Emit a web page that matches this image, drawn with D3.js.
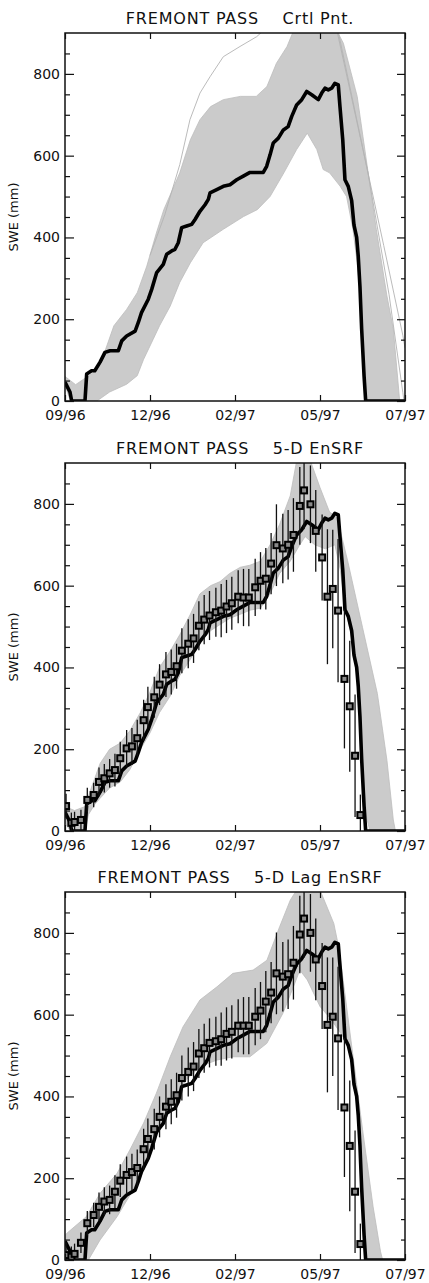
<!DOCTYPE html>
<html>
<head>
<meta charset="utf-8">
<script src="https://cdn.jsdelivr.net/npm/d3@7"></script>
<style>
  body { margin: 0; background: #fff; }
  text { font-family: "DejaVu Sans", sans-serif; fill: #111; }
</style>
</head>
<body>
<div id="chart"></div>
<script>
// x = days since start of record, y = SWE (mm)
const tickDays = [0, 80, 160, 240, 320];
const tickLabels = ["09/96", "12/96", "02/97", "05/97", "07/97"];
const titles = ["FREMONT PASS    Crtl Pnt.", "FREMONT PASS    5-D EnSRF", "FREMONT PASS    5-D Lag EnSRF"];

// "true" SWE (thick black line), same in each panel
const truth = [[0,46],[4.7,22],[6.3,0],[18.8,0],[20.4,66],[25,74],[28,74],[33,95],[37.6,119],[42.4,123],
  [50.2,123],[53.4,147],[58,159],[66,171],[69,192],[72,216],[78.4,249],[81.6,273],[86.3,314],[92.5,334],
  [95.7,359],[100.4,367],[103.5,371],[106.6,387],[109.8,424],[114.5,428],[119.3,432],[122.4,444],[127,464],
  [131.8,480],[134.9,493],[136.5,509],[142.8,517],[149,525],[155.3,529],[161.6,541],[167.8,550],[174.1,559],
  [186.6,559],[189.8,574],[193,602],[196,631],[200.8,643],[205.5,663],[210,671],[213.4,696],[218,724],
  [222.8,737],[227.5,757],[232.2,749],[238.4,737],[241.6,753],[244.7,765],[247.8,761],[251,765],[254,777],
  [257.2,773],[258.8,720],[261.4,639],[263.5,541],[266.6,525],[269.8,490],[272,430],[274.5,400],[276,354],
  [277.6,280],[279.2,176],[281.5,60],[283,0],[320,0]];

// outline of the grey ensemble traces, per panel
const crtlUpper = [[0,60],[10,40],[27,70],[36,110],[46,184],[58,224],[68,265],[77,330],[86,411],[93,468],
  [108,558],[118,639],[127,688],[137,720],[149,737],[165,745],[180,745],[190,769],[199,826],[209,867],
  [215,905],[256,905],[262,875],[275,745],[284,582],[293,420],[303,257],[309,176],[315,0]];
const crtlLower = [[0,40],[5,0],[30,0],[42,22],[58,41],[68,62],[74,102],[83,151],[89,184],[99,232],
  [108,290],[118,338],[130,387],[149,420],[168,451],[181,468],[193,500],[206,558],[218,615],[228,655],
  [237,615],[243,566],[249,558],[259,525],[265,500],[271,420],[275,338],[278,257],[279,176],[284,0]];
const enUpper = [[0,60],[9,50],[19,60],[24,100],[33,165],[42,200],[52,215],[61,245],[71,290],[80,340],
  [89,400],[99,440],[108,480],[118,530],[127,580],[137,600],[146,610],[155,630],[165,645],[174,650],
  [184,660],[193,700],[202,750],[212,820],[218,905],[231,905],[240,840],[249,780],[256,767],[266,661],
  [280,498],[294,336],[303,173],[309,27],[311,0]];
const enLower = [[0,20],[5,0],[19,0],[22,40],[28,65],[33,80],[42,105],[52,120],[61,150],[71,200],[80,240],
  [89,290],[99,330],[108,380],[118,420],[127,460],[137,490],[146,505],[155,520],[165,530],[174,540],
  [184,545],[193,580],[202,630],[212,660],[221,700],[226,720],[235,700],[245,690],[254,700],[259,640],
  [263,560],[266,520],[270,470],[275,380],[278,250],[280,150],[284,30],[287,0]];
const lagUpper = [[0,60],[2,66],[20,106],[33,163],[49,212],[61,269],[74,335],[86,408],[99,497],[111,570],
  [127,636],[143,668],[158,701],[177,709],[190,733],[202,815],[212,880],[218,905],[240,905],[253,823],
  [258,760],[268,560],[280,320],[290,130],[297,20],[299,0]];
const lagLower = [[0,30],[5,0],[22,0],[33,49],[49,106],[64,171],[77,253],[89,326],[102,391],[114,440],
  [127,473],[143,489],[158,497],[174,497],[190,530],[205,603],[215,668],[221,709],[228,685],[240,620],
  [250,590],[258,560],[263,541],[267,525],[270,485],[271,428],[275,403],[276,354],[278,257],[279,176],[282,0]];

// single grey members standing out of the spread (control run)
const crtlMemberHigh = [[80,356],[94,456],[108,578],[117.6,688],[127,753],[136.5,793],[149,842],
  [164.7,867],[180.4,891],[186.4,905]];
const crtlMemberLate1 = [[256,905],[280,620],[300,380],[318,160],[320,130]];
const crtlMemberLate2 = [[257,905],[285,560],[305,260],[318,20],[319,0]];

// observations (squares) with error bar half-widths
const obsDay = [1,6,9,15,21,27,32,37,42,47,52,58,63,68,74,78,84,89,95,100,105,110,116,121,126,131,136,
  142,147,152,157,163,168,173,179,184,189,194,199,205,210,215,221,225,231,236,242,247,252,257,263,268,273,278];
const obsEnSRF = [61,20,22,27,76,88,120,129,141,149,178,202,207,227,271,303,327,358,383,389,403,441,458,471,
  502,517,527,535,539,549,557,573,571,571,596,612,617,654,699,691,700,724,795,833,799,734,669,573,592,539,
  372,305,184,39];
const obsLag = [12,8,15,42,90,110,130,143,147,167,194,208,215,225,271,296,320,350,375,387,403,445,460,473,
  505,518,531,535,540,553,558,573,573,573,595,610,632,654,701,693,699,727,796,835,800,735,670,575,595,542,
  373,279,167,39];
const obsErr = [30,25,25,25,30,30,35,35,35,40,40,45,45,45,50,50,50,50,55,55,55,55,60,60,60,60,60,60,65,65,
  65,65,70,70,70,70,75,75,100,85,85,90,95,95,95,100,105,165,145,175,170,160,150,50];

const panels = [
  {title: titles[0], upper: crtlUpper, lower: crtlLower, members: [crtlMemberHigh, crtlMemberLate1, crtlMemberLate2], obs: null},
  {title: titles[1], upper: enUpper, lower: enLower, members: [], obs: obsEnSRF},
  {title: titles[2], upper: lagUpper, lower: lagLower, members: [], obs: obsLag}
];

const W = 429, H = 1283;
const left = 65, plotW = 340, plotH = 368;
const tops = [33, 463, 892];

const svg = d3.select("#chart").append("svg")
  .attr("width", W).attr("height", H);

svg.append("defs").append("clipPath").attr("id", "plotclip")
  .append("rect").attr("width", plotW).attr("height", plotH);

const x = d3.scaleLinear().domain([0, 320]).range([0, plotW]);
const y = d3.scaleLinear().domain([0, 900]).range([plotH, 0]);
const line = d3.line().x(d => x(d[0])).y(d => y(d[1]));

panels.forEach((p, i) => {
  const g = svg.append("g").attr("transform", `translate(${left},${tops[i]})`);
  const plot = g.append("g").attr("clip-path", "url(#plotclip)");

  // grey ensemble spread
  const poly = p.upper.concat(p.lower.slice().reverse());
  plot.append("path")
    .attr("d", line(poly) + "Z")
    .attr("fill", "#cbcbcb")
    .attr("stroke", "#bcbcbc")
    .attr("stroke-width", 0.8);

  p.members.forEach(m => {
    plot.append("path")
      .attr("d", line(m))
      .attr("fill", "none")
      .attr("stroke", "#b3b3b3")
      .attr("stroke-width", 0.9);
  });

  // truth
  plot.append("path")
    .attr("d", line(truth))
    .attr("fill", "none")
    .attr("stroke", "#000")
    .attr("stroke-width", 3.6)
    .attr("stroke-linejoin", "round");

  if (p.obs) {
    const obs = obsDay.map((d, k) => ({day: d, v: p.obs[k], e: obsErr[k]}));
    plot.selectAll(".err").data(obs).enter().append("line")
      .attr("x1", d => x(d.day)).attr("x2", d => x(d.day))
      .attr("y1", d => y(d.v + d.e)).attr("y2", d => y(Math.max(0, d.v - d.e)))
      .attr("stroke", "#111").attr("stroke-width", 1.3);
    plot.selectAll(".obs").data(obs).enter().append("rect")
      .attr("x", d => x(d.day) - 3).attr("y", d => y(d.v) - 3)
      .attr("width", 6).attr("height", 6)
      .attr("fill", "#8a8a8a").attr("stroke", "#000").attr("stroke-width", 2);
  }

  // axes, ticks pointing inward
  const major = [0, 200, 400, 600, 800];
  const minor = d3.range(50, 900, 50).filter(v => v % 200 !== 0);

  g.append("g").call(d3.axisLeft(y).tickValues(major).tickSize(-9).tickPadding(5));
  g.append("g").call(d3.axisLeft(y).tickValues(minor).tickSize(-5).tickFormat(""));
  g.append("g").attr("transform", `translate(${plotW},0)`)
    .call(d3.axisRight(y).tickValues(major).tickSize(-8).tickFormat(""));
  g.append("g").attr("transform", `translate(${plotW},0)`)
    .call(d3.axisRight(y).tickValues(minor).tickSize(-4).tickFormat(""));
  g.append("g").attr("transform", `translate(0,${plotH})`)
    .call(d3.axisBottom(x).tickValues(tickDays).tickSize(-6).tickPadding(9)
      .tickFormat((d, k) => tickLabels[k]));
  g.append("g")
    .call(d3.axisTop(x).tickValues(tickDays).tickSize(-6).tickFormat(""));

  g.selectAll(".domain").remove();
  g.selectAll(".tick line").attr("stroke", "#111").attr("stroke-width", 1.2);
  g.selectAll(".tick text").attr("font-size", 14).attr("fill", "#111")
    .attr("font-family", "DejaVu Sans, sans-serif");

  g.append("rect")
    .attr("width", plotW).attr("height", plotH)
    .attr("fill", "none").attr("stroke", "#111").attr("stroke-width", 1.5);

  g.append("text")
    .attr("x", plotW / 2 + 5).attr("y", -9)
    .attr("text-anchor", "middle")
    .attr("font-size", 16)
    .attr("letter-spacing", 0.8)
    .style("white-space", "pre")
    .text(p.title);

  g.append("text")
    .attr("transform", `translate(-47,${plotH / 2}) rotate(-90)`)
    .attr("text-anchor", "middle")
    .attr("font-size", 13)
    .text("SWE (mm)");
});
</script>
</body>
</html>
